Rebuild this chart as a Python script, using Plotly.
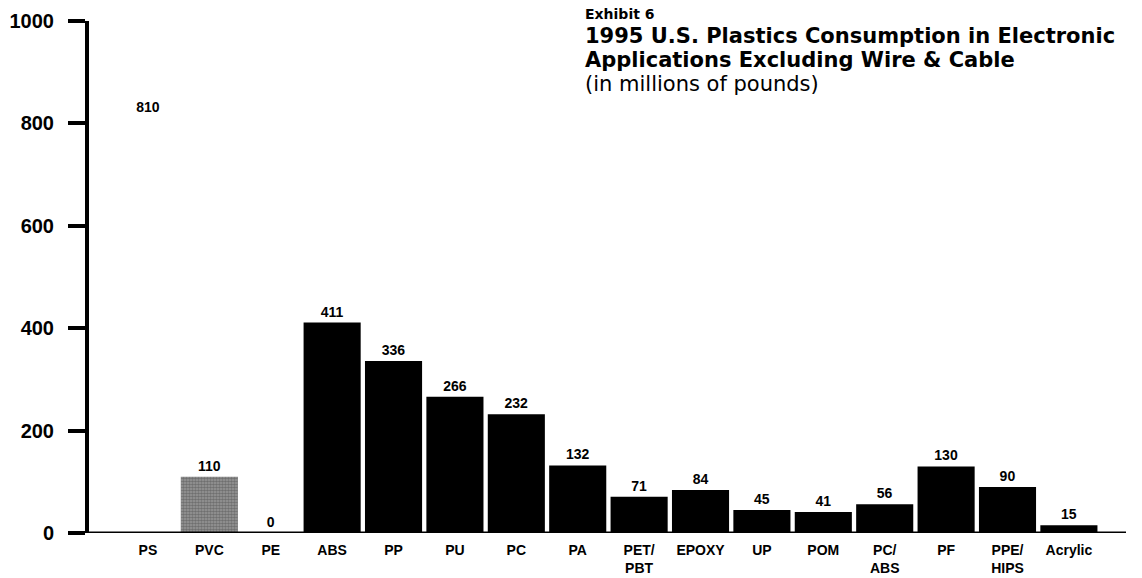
import plotly.graph_objects as go

categories = ["PS", "PVC", "PE", "ABS", "PP", "PU", "PC", "PA", "PET/<br>PBT", "EPOXY",
              "UP", "POM", "PC/<br>ABS", "PF", "PPE/<br>HIPS", "Acrylic"]
values = [810, 110, 0, 411, 336, 266, 232, 132, 71, 84, 45, 41, 56, 130, 90, 15]
value_labels = ["810", "110", "0", "411", "336", "266", "232", "132", "71", "84",
                "45", "41", "56", "130", "90", "15"]
y_ticks = [0, 200, 400, 600, 800, 1000]

colors = ["rgba(255,255,255,0)", "#9a9a9a"] + ["#000000"] * (len(categories) - 2)
patterns = [""] + ["."] + [""] * (len(categories) - 2)

W, H = 1142, 578
L, R, T, B = 89, 16, 21, 45
pw = W - L - R
ph = H - T - B

fig = go.Figure()
fig.add_trace(go.Bar(
    x=list(range(len(categories))),
    y=values,
    text=[f"<b>{t}</b>" for t in value_labels],
    textposition="outside",
    cliponaxis=False,
    textfont=dict(family="Liberation Sans, Arial", size=14, color="#000"),
    marker=dict(color=colors, line=dict(width=0),
                pattern=dict(shape=patterns, fgcolor="#1a1a1a", size=3, solidity=0.6)),
    width=0.93,
))

fig.update_layout(
    width=W, height=H,
    margin=dict(l=L, r=R, t=T, b=B, pad=0),
    plot_bgcolor="white", paper_bgcolor="white",
    showlegend=False,
    font=dict(family="Liberation Sans, Arial", color="#000"),
    xaxis=dict(
        range=[-0.96, 15.93],
        automargin=False,
        tickmode="array",
        tickvals=list(range(len(categories))),
        ticktext=[f"<b>{c}</b>" for c in categories],
        tickfont=dict(family="Liberation Sans Narrow, Arial Narrow, Liberation Sans", size=14),
        showgrid=False, zeroline=False, showline=False, ticks="",
        ticklabelstandoff=7,
    ),
    yaxis=dict(
        range=[0, 1000],
        automargin=False,
        tickmode="array",
        tickvals=y_ticks,
        ticktext=[f"<b>{v}</b>" for v in y_ticks],
        tickfont=dict(family="Liberation Sans, Arial", size=20),
        showgrid=False, zeroline=False,
        showline=True, linewidth=4, linecolor="#000",
        ticks="outside", ticklen=17, tickwidth=4, tickcolor="#000",
        ticklabelstandoff=10,
    ),
)

# x-axis baseline extending a bit left of the y axis
fig.add_shape(type="line", xref="paper", yref="y",
              x0=(68 - L) / pw, x1=1.0, y0=0, y1=0,
              line=dict(color="#000", width=3))

def py(ypx):
    return (H - B - ypx) / ph

x0 = (583 - L) / pw
fig.add_annotation(xref="paper", yref="paper", x=x0, y=py(14), xanchor="left", yanchor="middle",
                   text="<b>Exhibit 6</b>", showarrow=False,
                   font=dict(family="DejaVu Sans", size=14))
fig.add_annotation(xref="paper", yref="paper", x=x0, y=py(36), xanchor="left", yanchor="middle",
                   text="<b>1995 U.S. Plastics Consumption in Electronic</b>", showarrow=False,
                   font=dict(family="DejaVu Sans", size=21))
fig.add_annotation(xref="paper", yref="paper", x=x0, y=py(60), xanchor="left", yanchor="middle",
                   text="<b>Applications Excluding Wire &amp; Cable</b>", showarrow=False,
                   font=dict(family="DejaVu Sans", size=21))
fig.add_annotation(xref="paper", yref="paper", x=x0, y=py(84), xanchor="left", yanchor="middle",
                   text="(in millions of pounds)", showarrow=False,
                   font=dict(family="DejaVu Sans", size=21))

fig.write_html("out.html")
